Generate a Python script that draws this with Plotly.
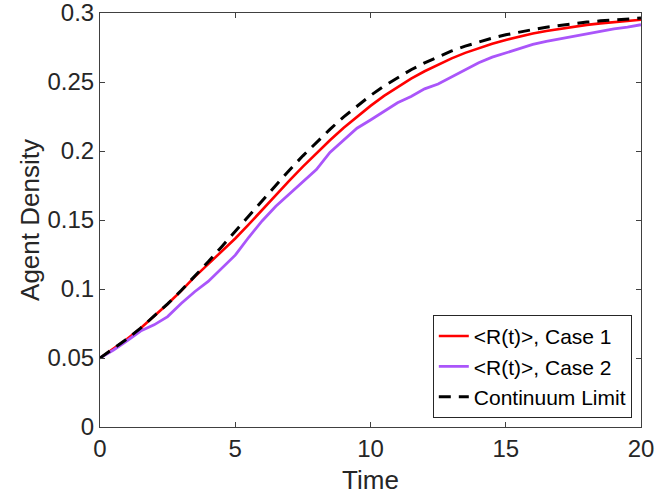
import plotly.graph_objects as go

time = [i * 0.5 for i in range(41)]

continuum = [0.0500, 0.0566, 0.0638, 0.0716, 0.0801, 0.0892, 0.0989, 0.1091, 0.1197, 0.1307,
             0.1418, 0.1531, 0.1643, 0.1753, 0.1861, 0.1965, 0.2064, 0.2157, 0.2246, 0.2327,
             0.2402, 0.2471, 0.2533, 0.2589, 0.2639, 0.2684, 0.2725, 0.2760, 0.2791, 0.2818,
             0.2842, 0.2863, 0.2880, 0.2897, 0.2911, 0.2923, 0.2934, 0.2943, 0.2951, 0.2957,
             0.2963]

case1 = [0.0500, 0.0566, 0.0638, 0.0716, 0.0801, 0.0891, 0.0986, 0.1088, 0.1180, 0.1272,
         0.1366, 0.1468, 0.1575, 0.1682, 0.1786, 0.1887, 0.1985, 0.2078, 0.2167, 0.2250,
         0.2327, 0.2399, 0.2464, 0.2524, 0.2578, 0.2627, 0.2671, 0.2711, 0.2746, 0.2777,
         0.2805, 0.2829, 0.2851, 0.2870, 0.2886, 0.2901, 0.2914, 0.2925, 0.2935, 0.2943,
         0.2951]

case2 = [0.0500, 0.0558, 0.0625, 0.0695, 0.0740, 0.0800, 0.0895, 0.0980, 0.1055, 0.1150,
         0.1245, 0.1375, 0.1495, 0.1600, 0.1690, 0.1780, 0.1865, 0.1990, 0.2075, 0.2165,
         0.2225, 0.2290, 0.2350, 0.2395, 0.2450, 0.2485, 0.2535, 0.2590, 0.2640, 0.2680,
         0.2712, 0.2745, 0.2772, 0.2794, 0.2812, 0.2830, 0.2850, 0.2866, 0.2885, 0.2898,
         0.2915]

names = ["<R(t)>, Case 1", "<R(t)>, Case 2", "Continuum Limit"]
x_ticks = [0, 5, 10, 15, 20]
y_ticks = [0, 0.05, 0.1, 0.15, 0.2, 0.25, 0.3]
y_tick_labels = ["0", "0.05", "0.1", "0.15", "0.2", "0.25", "0.3"]

FONT = "Liberation Sans, Arial, Helvetica, sans-serif"

fig = go.Figure()
fig.add_trace(go.Scatter(x=time, y=case1, mode="lines", name=names[0],
                         line=dict(color="#FF0000", width=2.6)))
fig.add_trace(go.Scatter(x=time, y=case2, mode="lines", name=names[1],
                         line=dict(color="#AA55FA", width=2.8)))
fig.add_trace(go.Scatter(x=time, y=continuum, mode="lines", name=names[2],
                         line=dict(color="#000000", width=3, dash="12px,8px")))

axis_common = dict(showline=True, linecolor="#404040", linewidth=1, mirror="ticks",
                   ticks="inside", ticklen=5, tickcolor="#404040", showgrid=False,
                   zeroline=False, automargin=False, ticklabeloverflow="allow",
                   tickfont=dict(size=24, color="#262626", family=FONT),
                   title_font=dict(size=26, color="#262626", family=FONT))

fig.update_xaxes(range=[0, 20], tickvals=x_ticks, title_text="Time",
                 title_standoff=10, **axis_common)
fig.update_yaxes(range=[0, 0.3], tickvals=y_ticks, ticktext=y_tick_labels,
                 title_text="Agent Density", title_standoff=0, **axis_common)

fig.update_layout(
    width=655, height=500,
    margin=dict(l=100, r=14, t=13, b=73),
    paper_bgcolor="white", plot_bgcolor="white",
    font=dict(family=FONT, color="#262626"),
    showlegend=True,
    legend=dict(x=0.983, y=0.022, xanchor="right", yanchor="bottom",
                bordercolor="#262626", borderwidth=1, bgcolor="white",
                font=dict(size=21, color="#000000", family=FONT),
                tracegroupgap=0, itemwidth=30),
)

fig.write_html("out.html", config={"displayModeBar": False},
               post_script="document.body.style.margin='0';")
